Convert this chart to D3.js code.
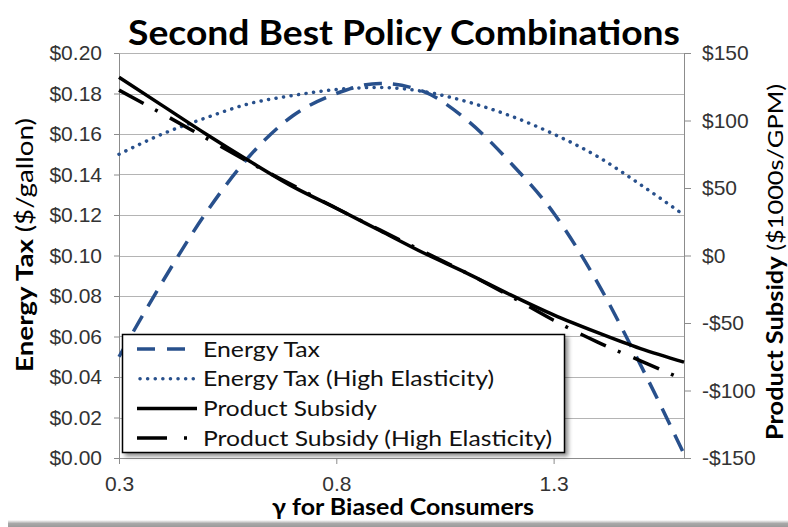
<!DOCTYPE html>
<html>
<head>
<meta charset="utf-8">
<script src="https://cdn.jsdelivr.net/npm/d3@7"></script>
<style>
  body { margin: 0; background: #fff; }
  svg { display: block; font-family: Lato, "Open Sans", sans-serif; }
  .axis text { fill: #333; font-size: 21px; }
  .axis .domain { stroke: #8c8c8c; }
  .axis line { stroke: #8c8c8c; }
</style>
</head>
<body>
<svg width="788" height="527"></svg>
<script>
// gamma values along the x axis
const gammaValues = [0.3, 0.4, 0.5, 0.6, 0.7, 0.8, 0.9, 1.0, 1.1, 1.2, 1.3, 1.4, 1.5, 1.6];
// $/gallon (left axis)
const energyTax = [0.050, 0.087, 0.121, 0.149, 0.169, 0.180, 0.185, 0.181, 0.167, 0.146, 0.121, 0.087, 0.046, 0.002];
const energyTaxHigh = [0.150, 0.160, 0.168, 0.175, 0.179, 0.182, 0.183, 0.181, 0.176, 0.169, 0.160, 0.149, 0.135, 0.120];
// $1000s/GPM (right axis)
const productSubsidy = [132, 111, 90, 70, 51, 35, 18.5, 2, -13, -29, -44, -57, -69, -79];
const productSubsidyHigh = [122.5, 105, 87, 69, 52, 35, 19, 3, -13, -30, -48, -64, -78, -92];

const leftTicks = [0, 0.02, 0.04, 0.06, 0.08, 0.10, 0.12, 0.14, 0.16, 0.18, 0.20];
const rightTicks = [-150, -100, -50, 0, 50, 100, 150];
const xTicks = [0.3, 0.8, 1.3];
const legendLabels = ["Energy Tax", "Energy Tax (High Elasticity)", "Product Subsidy", "Product Subsidy (High Elasticity)"];

const blue = "#28508c";
const svg = d3.select("svg");

const x = d3.scaleLinear().domain([0.3, 1.6]).range([119, 684]);
const yL = d3.scaleLinear().domain([0, 0.2]).range([458, 53]);
const yR = d3.scaleLinear().domain([-150, 150]).range([458, 53]);

// bottom shadow of the chart frame
const defs = svg.append("defs");
const grad = defs.append("linearGradient").attr("id", "shade").attr("x1", 0).attr("x2", 0).attr("y1", 0).attr("y2", 1);
grad.append("stop").attr("offset", "0%").attr("stop-color", "#fff");
grad.append("stop").attr("offset", "50%").attr("stop-color", "#a8a8a8");
grad.append("stop").attr("offset", "100%").attr("stop-color", "#9a9a9a");
svg.append("rect").attr("x", 8).attr("y", 520).attr("width", 780).attr("height", 7).attr("fill", "url(#shade)");

const shadow = defs.append("filter").attr("id", "lshadow").attr("x", "-5%").attr("y", "-5%").attr("width", "115%").attr("height", "125%");
shadow.append("feDropShadow").attr("dx", 3).attr("dy", 3).attr("stdDeviation", 2).attr("flood-color", "#000").attr("flood-opacity", 0.45);

// gridlines
svg.append("g")
  .selectAll("line")
  .data(leftTicks)
  .enter()
  .append("line")
  .attr("x1", 119)
  .attr("x2", 684)
  .attr("y1", d => Math.round(yL(d)) + 0.5)
  .attr("y2", d => Math.round(yL(d)) + 0.5)
  .attr("stroke", "#b4b4b4")
  .attr("stroke-width", 1.2);

// axes
svg.append("g")
  .attr("class", "axis")
  .attr("transform", "translate(119,0)")
  .call(d3.axisLeft(yL).tickValues(leftTicks).tickSize(5).tickSizeOuter(0).tickPadding(12)
    .tickFormat(d => "$" + d.toFixed(2)));

svg.append("g")
  .attr("class", "axis")
  .attr("transform", "translate(684,0)")
  .call(d3.axisRight(yR).tickValues(rightTicks).tickSize(7).tickSizeOuter(0).tickPadding(11)
    .tickFormat(d => (d < 0 ? "-$" : "$") + Math.abs(d)));

svg.append("g")
  .attr("class", "axis")
  .attr("transform", "translate(0,458)")
  .call(d3.axisBottom(x).tickValues(xTicks).tickSize(6).tickSizeOuter(0).tickPadding(12)
    .tickFormat(d3.format(".1f")));

// series
const lineL = d3.line().x((d, i) => x(gammaValues[i])).y(d => yL(d)).curve(d3.curveMonotoneX);
const lineR = d3.line().x((d, i) => x(gammaValues[i])).y(d => yR(d)).curve(d3.curveMonotoneX);

const series = [
  { data: energyTax, line: lineL, color: blue, width: 3.5, dash: "18 11", cap: "butt" },
  { data: energyTaxHigh, line: lineL, color: blue, width: 3.5, dash: "0.1 7.5", cap: "round" },
  { data: productSubsidy, line: lineR, color: "#000", width: 3.5, dash: null, cap: "butt" },
  { data: productSubsidyHigh, line: lineR, color: "#000", width: 3.5, dash: "28 13 3 14", cap: "butt" }
];

svg.append("g")
  .selectAll("path")
  .data(series)
  .enter()
  .append("path")
  .attr("d", d => d.line(d.data))
  .attr("fill", "none")
  .attr("stroke", d => d.color)
  .attr("stroke-width", d => d.width)
  .attr("stroke-dasharray", d => d.dash)
  .attr("stroke-linecap", d => d.cap);

// legend
const legendWidths = [117, 291, 174, 349];
const legend = svg.append("g");
legend.append("rect")
  .attr("x", 122.5)
  .attr("y", 334.5)
  .attr("width", 442)
  .attr("height", 118)
  .attr("fill", "#fff")
  .attr("stroke", "#000")
  .attr("stroke-width", 1.5)
  .attr("filter", "url(#lshadow)");

const rows = legend.selectAll("g.row")
  .data(series)
  .enter()
  .append("g")
  .attr("class", "row")
  .attr("transform", (d, i) => `translate(0,${349 + i * 29.7})`);

rows.append("line")
  .attr("x1", (d, i) => (i === 1 ? 140 : 137))
  .attr("x2", (d, i) => (i === 0 ? 186 : i === 3 ? 190 : 197))
  .attr("y1", 0)
  .attr("y2", 0)
  .attr("stroke", d => d.color)
  .attr("stroke-width", d => d.width)
  .attr("stroke-dasharray", (d, i) => (i === 0 ? "18 12" : i === 3 ? "30 17 3 10" : d.dash))
  .attr("stroke-linecap", d => d.cap);

rows.append("text")
  .attr("x", 203)
  .attr("y", 7.5)
  .attr("font-size", 22)
  .attr("fill", "#111")
  .attr("textLength", (d, i) => legendWidths[i])
  .attr("lengthAdjust", "spacingAndGlyphs")
  .text((d, i) => legendLabels[i]);

// title
svg.append("text")
  .attr("x", 404)
  .attr("y", 45)
  .attr("text-anchor", "middle")
  .attr("font-size", 35)
  .attr("font-weight", "bold")
  .attr("fill", "#000")
  .attr("textLength", 552)
  .attr("lengthAdjust", "spacingAndGlyphs")
  .text("Second Best Policy Combinations");

// x axis title
svg.append("text")
  .attr("x", 403)
  .attr("y", 515)
  .attr("text-anchor", "middle")
  .attr("font-size", 22)
  .attr("font-weight", "bold")
  .attr("fill", "#000")
  .attr("textLength", 262)
  .attr("lengthAdjust", "spacingAndGlyphs")
  .text("γ for Biased Consumers");

// left axis title
const lt = svg.append("text")
  .attr("transform", "translate(33,245) rotate(-90)")
  .attr("text-anchor", "middle")
  .attr("font-size", 23)
  .attr("fill", "#000")
  .attr("textLength", 254)
  .attr("lengthAdjust", "spacingAndGlyphs");
lt.append("tspan").attr("font-weight", "bold").text("Energy Tax ");
lt.append("tspan").text("($/gallon)");

// right axis title
const rt = svg.append("text")
  .attr("transform", "translate(783,262) rotate(-90)")
  .attr("text-anchor", "middle")
  .attr("font-size", 22)
  .attr("fill", "#000")
  .attr("textLength", 356)
  .attr("lengthAdjust", "spacingAndGlyphs");
rt.append("tspan").attr("font-weight", "bold").text("Product Subsidy ");
rt.append("tspan").text("($1000s/GPM)");
</script>
</body>
</html>
